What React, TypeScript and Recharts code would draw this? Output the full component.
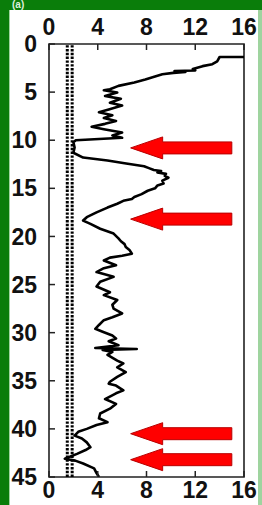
import React from "react";
import {
  LineChart,
  Line,
  XAxis,
  YAxis,
  ReferenceLine,
  ReferenceArea,
} from "recharts";

// depth (cm) and the measured value at that depth, read top to bottom
const depths = [
  1.35, 1.35, 1.8, 2.1, 2.3, 2.6, 2.75, 2.8, 2.9, 3.0, 3.15, 3.3, 3.7, 4.0, 4.35,
  4.7, 4.8, 5.05, 5.4, 5.7, 6.1, 6.4, 6.8, 7.1, 7.4, 7.7, 8.0, 8.3, 8.6, 8.85,
  9.2, 9.5, 9.75, 10.0, 10.2, 10.75, 11.3, 11.8, 12.1, 12.4, 12.7, 12.9, 13.1,
  13.2, 13.35, 13.5, 13.7, 13.9, 14.2, 14.5, 14.7, 15.0, 15.25, 15.6, 15.9,
  16.1, 16.3, 16.6, 17.0, 17.5, 18.0, 18.35, 18.7, 19.2, 19.7, 20.2, 20.5,
  20.8, 21.1, 21.4, 21.8, 22.0, 22.2, 22.5, 23.0, 23.3, 23.7, 24.2, 24.7, 25.2,
  25.8, 26.1, 26.6, 27.1, 27.5, 28.0, 28.4, 28.7, 29.2, 29.6, 29.9, 30.3, 30.6,
  30.9, 31.3, 31.6, 31.7, 31.8, 32.0, 32.3, 32.9, 33.2, 33.6, 34.1, 34.6, 35.1,
  35.3, 35.5, 36.0, 36.3, 36.9, 37.4, 37.9, 38.4, 38.9, 39.3, 39.6, 40.0, 40.3,
  40.7, 41.0, 41.4, 41.9, 42.2, 42.6, 43.1, 43.3, 43.6, 44.1, 44.6, 45.0,
];
const values = [
  16.0, 14.0, 13.8, 13.4, 12.6, 11.8, 12.0, 10.3, 11.2, 10.2, 9.3, 8.9, 7.9, 7.0, 5.7,
  5.0, 4.5, 5.6, 4.6, 5.9, 5.0, 6.0, 4.9, 4.1, 5.2, 4.5, 5.5, 4.6, 3.5, 4.5,
  6.0, 5.2, 6.0, 2.2, 2.0, 2.1, 2.0, 2.8, 4.8, 6.2, 7.8, 8.2, 8.6,
  9.2, 8.9, 9.6, 9.5, 9.8, 9.3, 9.4, 8.9, 8.7, 8.1, 7.6, 7.0,
  6.8, 6.1, 5.6, 4.8, 3.9, 3.1, 2.8, 3.4, 4.2, 5.3, 5.7, 5.9,
  6.2, 6.3, 6.6, 6.8, 6.0, 5.0, 4.5, 5.5, 4.5, 3.9, 5.3, 4.2, 3.9,
  5.0, 4.5, 5.6, 5.2, 5.3, 6.0, 5.2, 4.5, 4.1, 3.8, 4.4, 5.2, 5.5,
  4.9, 5.7, 3.8, 7.2, 4.4, 5.2, 4.8, 5.6, 6.1, 5.6, 6.3, 5.6, 5.0,
  4.9, 5.5, 6.1, 5.5, 4.6, 5.5, 5.0, 4.2, 4.1, 4.8, 3.9, 3.1, 2.4,
  2.1, 2.7, 3.1, 3.4, 3.0, 2.3, 1.3, 2.15, 2.8, 3.7, 3.9, 4.1,
];

const xTicks = [0, 4, 8, 12, 16];
const yTicks = [0, 5, 10, 15, 20, 25, 30, 35, 40, 45];
const thresholds = [1.5, 1.9];
const arrowDepths = [10.8, 18.2, 40.5, 43.2];
const arrowTip = 6.7;
const arrowTail = 15.0;

const profile = depths.map((depth, i) => ({ depth, value: values[i] }));

const font = "'Liberation Sans Narrow', 'Arial Narrow', Arial, 'Liberation Sans', sans-serif";
const tickStyle = { fontSize: 23, fill: "#111", fontFamily: font, fontWeight: "bold" };

// left-pointing block arrow between the two segment ends
const Arrow = (props: any) => {
  const { x1, y1, x2 } = props;
  const tip = Math.min(x1, x2);
  const tail = Math.max(x1, x2);
  const y = y1;
  const head = 32;
  const pts = [
    [tip, y],
    [tip + head, y - 11],
    [tip + head, y - 6],
    [tail, y - 6],
    [tail, y + 6],
    [tip + head, y + 6],
    [tip + head, y + 11],
  ]
    .map((p) => p.join(","))
    .join(" ");
  return <polygon points={pts} fill="#ff0000" stroke="#b80000" strokeWidth={1} />;
};

export default function App() {
  return (
    <div style={{ position: "absolute", left: 0, top: 0, width: 262, height: 505, background: "#0a7d0a", overflow: "hidden" }}>
      <div style={{ position: "absolute", left: 12, top: -1, color: "#dff0df", fontFamily: font, fontSize: 10, lineHeight: "11px", fontWeight: "bold" }}>(a)</div>
      <div style={{ position: "absolute", left: 9, top: 10, width: 253, height: 495, background: "#9fd49f" }} />
      <div style={{ position: "absolute", left: 10, top: 10, width: 248, height: 495, background: "#ffffff" }} />
      <div style={{ position: "absolute", left: 0, top: 0 }}>
        <LineChart
          width={262}
          height={505}
          layout="vertical"
          data={profile}
          margin={{ top: 14, right: 18, bottom: 0, left: 0 }}
        >
          <XAxis
            type="number"
            domain={[0, 16]}
            ticks={xTicks}
            orientation="bottom"
            height={28}
            axisLine={false}
            tickSize={-6}
            tickMargin={11}
            tickLine={{ stroke: "#222", strokeWidth: 1.5 }}
            tick={tickStyle}
            interval={0}
            allowDataOverflow
          />
          <XAxis
            xAxisId="top"
            type="number"
            domain={[0, 16]}
            ticks={xTicks}
            orientation="top"
            height={30}
            axisLine={false}
            tickSize={-6}
            tickMargin={15}
            tickLine={{ stroke: "#222", strokeWidth: 1.5 }}
            tick={tickStyle}
            interval={0}
            allowDataOverflow
          />
          <YAxis
            type="number"
            dataKey="depth"
            domain={[0, 45]}
            ticks={yTicks}
            width={49}
            axisLine={false}
            tickSize={-6}
            tickMargin={18}
            tickLine={{ stroke: "#222", strokeWidth: 1.5 }}
            tick={tickStyle}
            interval={0}
            allowDataOverflow
          />
          <ReferenceArea x1={0} x2={16} y1={0} y2={45} fill="none" stroke="#222" strokeWidth={1.6} />
          {thresholds.map((t) => (
            <ReferenceLine key={t} x={t} stroke="#000" strokeWidth={3} strokeDasharray="2.4 1.4" />
          ))}
          {/* the same profile on the top axis keeps its ticks alive; drawn invisibly */}
          <Line
            xAxisId="top"
            type="linear"
            dataKey="value"
            stroke="none"
            dot={false}
            legendType="none"
            isAnimationActive={false}
          />
          <Line
            type="linear"
            dataKey="value"
            stroke="#000"
            strokeWidth={2.6}
            strokeLinejoin="round"
            dot={false}
            isAnimationActive={false}
          />
          {arrowDepths.map((d) => (
            <ReferenceLine
              key={d}
              segment={[
                { x: arrowTail, y: d },
                { x: arrowTip, y: d },
              ]}
              shape={Arrow}
            />
          ))}
        </LineChart>
      </div>
    </div>
  );
}
